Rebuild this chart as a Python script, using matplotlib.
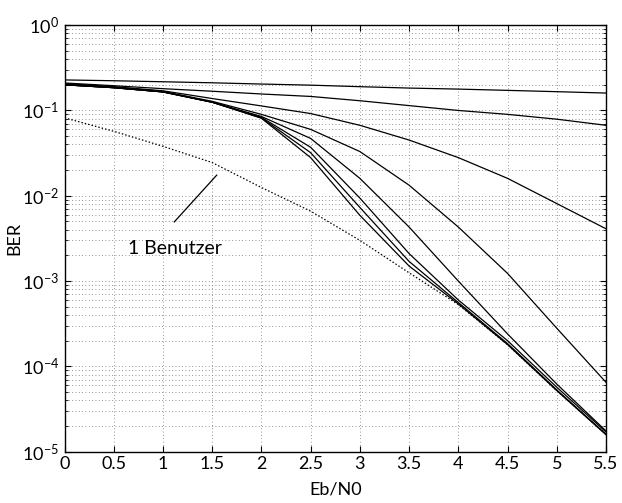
import matplotlib
matplotlib.use("Agg")
import matplotlib.pyplot as plt
from matplotlib.ticker import LogLocator, NullFormatter

plt.rcParams['font.family'] = ['Lato', 'DejaVu Sans']
plt.rcParams['mathtext.fontset'] = 'custom'
plt.rcParams['mathtext.rm'] = 'Lato'

ebn0 = [0, 0.5, 1, 1.5, 2, 2.5, 3, 3.5, 4, 4.5, 5, 5.5]
xtick_labels = ['0', '0.5', '1', '1.5', '2', '2.5', '3', '3.5', '4', '4.5', '5', '5.5']

# multiuser curves, top to bottom
ber_1 = [0.228, 0.223, 0.217, 0.211, 0.204, 0.198, 0.19, 0.183, 0.178, 0.172, 0.166, 0.16]
ber_2 = [0.21, 0.195, 0.18, 0.168, 0.156, 0.146, 0.13, 0.114, 0.1, 0.09, 0.079, 0.067]
ber_3 = [0.205, 0.19, 0.17, 0.138, 0.113, 0.092, 0.067, 0.045, 0.028, 0.016, 0.0081, 0.0041]
ber_4 = [0.205, 0.188, 0.167, 0.128, 0.09, 0.06, 0.033, 0.0133, 0.0043, 0.00123, 2.8e-4, 6.5e-5]
ber_5 = [0.2, 0.185, 0.165, 0.125, 0.085, 0.047, 0.016, 0.0043, 0.001, 2.4e-4, 6.2e-5, 1.75e-5]
ber_6 = [0.2, 0.185, 0.165, 0.125, 0.083, 0.037, 0.0094, 0.0021, 6e-4, 2.0e-4, 5.7e-5, 1.7e-5]
ber_7 = [0.2, 0.185, 0.165, 0.125, 0.082, 0.032, 0.0073, 0.0017, 5.6e-4, 1.85e-4, 5.3e-5, 1.6e-5]
ber_8 = [0.2, 0.185, 0.165, 0.125, 0.081, 0.028, 0.0059, 0.0015, 5.4e-4, 1.8e-4, 5.2e-5, 1.58e-5]
multi = [ber_1, ber_2, ber_3, ber_4, ber_5, ber_6, ber_7, ber_8]

# single user reference
ber_single = [0.082, 0.057, 0.038, 0.0245, 0.0125, 0.0066, 0.003, 0.00125, 5.3e-4, 1.8e-4, 5.2e-5, 1.6e-5]

label_text = "1 Benutzer"
label_xy = (1.12, 0.00244)
arrow_from = (1.115, 0.00494)
arrow_to = (1.546, 0.01745)

fig = plt.figure(figsize=(6.22, 5.03), dpi=100)
ax = fig.add_axes([0.1037, 0.102, 0.8706, 0.848])

for ber in multi:
    ax.semilogy(ebn0, ber, color='k', lw=0.9)
ax.semilogy(ebn0, ber_single, color='k', lw=0.9, ls=(0, (1.2, 1.6)))

ax.plot([arrow_from[0], arrow_to[0]], [arrow_from[1], arrow_to[1]], color='k', lw=0.9)
ax.text(label_xy[0], label_xy[1], label_text, fontsize=14, ha='center', va='center')

ax.set_xlim(0, 5.5)
ax.set_ylim(1e-5, 1)
ax.set_xticks(ebn0)
ax.set_xticklabels(xtick_labels)
ax.yaxis.set_major_locator(LogLocator(base=10, numticks=10))
ax.yaxis.set_minor_locator(LogLocator(base=10, subs=range(2, 10), numticks=10))
ax.yaxis.set_minor_formatter(NullFormatter())

grid_style = dict(ls=(0, (1, 3)), color='0.45', lw=0.6)
ax.grid(True, which='major', **grid_style)
ax.grid(True, which='minor', axis='y', **grid_style)
ax.tick_params(which='both', direction='in', top=True, right=True, labelsize=13)
ax.tick_params(which='major', length=4)
ax.tick_params(axis='x', which='major', pad=3)
ax.tick_params(axis='y', which='major', pad=4)
ax.tick_params(which='minor', length=2)
for s in ax.spines.values():
    s.set_linewidth(1.0)

ax.set_xlabel("Eb/N0", fontsize=13, labelpad=7)
ax.set_ylabel("BER", fontsize=13)
ax.yaxis.set_label_coords(-0.078, 0.5)

fig.savefig("out.png", dpi=100)
